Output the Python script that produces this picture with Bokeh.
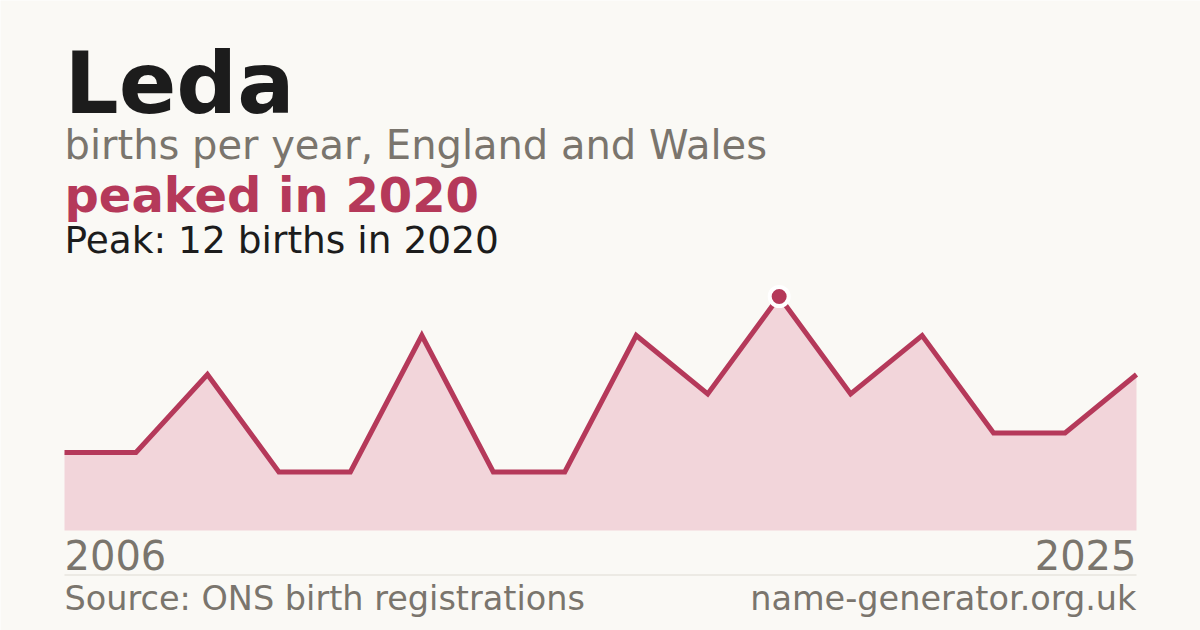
from bokeh.plotting import figure
from bokeh.models import Label, BoxAnnotation, Range1d, ColumnDataSource
from bokeh.embed import file_html
from bokeh.resources import INLINE

# ---- data ----
years = [2006, 2007, 2008, 2009, 2011, 2012, 2014, 2015, 2017, 2018,
         2020, 2021, 2022, 2023, 2024, 2025]
births = [4, 4, 8, 3, 3, 10, 3, 3, 10, 7, 12, 7, 10, 5, 5, 8]
name = "Leda"
subtitle = "births per year, England and Wales"
headline = "peaked in 2020"
peak_text = "Peak: 12 births in 2020"
start_label = "2006"
end_label = "2025"
source_text = "Source: ONS birth registrations"
site_text = "name-generator.org.uk"

BG = "#faf9f5"
ACCENT = "#b5395a"
FILL = "#f2d5da"
GRAY = "#7a756d"
DARK = "#1c1c1c"
FONT = "DejaVu Sans"

W, H = 1200, 630
OFF = 0   # page is drawn from the top-left corner
BASE_K = 0.37  # correction for how the svg backend places the alphabetic baseline


def sx(px):
    return px - OFF


def sy(py):
    return H - (py - OFF)


idx = list(range(len(births)))
src = ColumnDataSource(dict(x=idx, y=births, y0=[0] * len(births)))

# x: index 0 at page x 64, last at 1136 ; y: 0 at page y 530, 19.5 px per birth
n = len(births) - 1
px_per_x = (1136 - 64) / n
px_per_y = 19.5
x0 = -(sx(64)) / px_per_x
x1 = (W - sx(64)) / px_per_x
y_top = (530 - OFF) / px_per_y
y_bot = -(H - (530 - OFF)) / px_per_y

p = figure(width=W, height=H, output_backend="svg", toolbar_location=None,
           x_range=Range1d(x0, x1), y_range=Range1d(y_bot, y_top),
           min_border=0, background_fill_color=BG, border_fill_color=BG)
p.axis.visible = False
p.grid.visible = False
p.outline_line_color = None

p.varea(x="x", y1="y0", y2="y", source=src, fill_color=FILL)
p.line(x="x", y="y", source=src, line_color=ACCENT, line_width=5, line_join="miter")

pk = births.index(max(births))
p.scatter(x=[idx[pk]], y=[births[pk]], size=19, fill_color=ACCENT,
          line_color="white", line_width=4)

# separator line
p.add_layout(BoxAnnotation(left=sx(64), right=sx(1136), bottom=sy(575), top=sy(574),
                           left_units="screen", right_units="screen",
                           bottom_units="screen", top_units="screen",
                           fill_color="#dedbd4", fill_alpha=1, line_alpha=0))


def lab(text, x, y, size, color, bold=False, align="left"):
    p.add_layout(Label(x=sx(x), y=sy(y - BASE_K * size), x_units="screen", y_units="screen",
                       text=text, text_font=FONT, text_font_size=f"{size}px",
                       text_color=color, text_align=align, text_baseline="alphabetic",
                       text_font_style="bold" if bold else "normal"))


lab(name, 64, 114, 85, DARK, bold=True)
lab(subtitle, 64, 159, 40, GRAY)
lab(headline, 64, 212, 48, ACCENT, bold=True)
lab(peak_text, 64, 253, 37.5, DARK)
lab(start_label, 64, 569, 40, GRAY)
lab(end_label, 1136, 569, 40, GRAY, align="right")
lab(source_text, 64, 610, 33.5, GRAY)
lab(site_text, 1136, 610, 33.5, GRAY, align="right")

open("out.html", "w").write(file_html(p, INLINE, title="Leda"))
